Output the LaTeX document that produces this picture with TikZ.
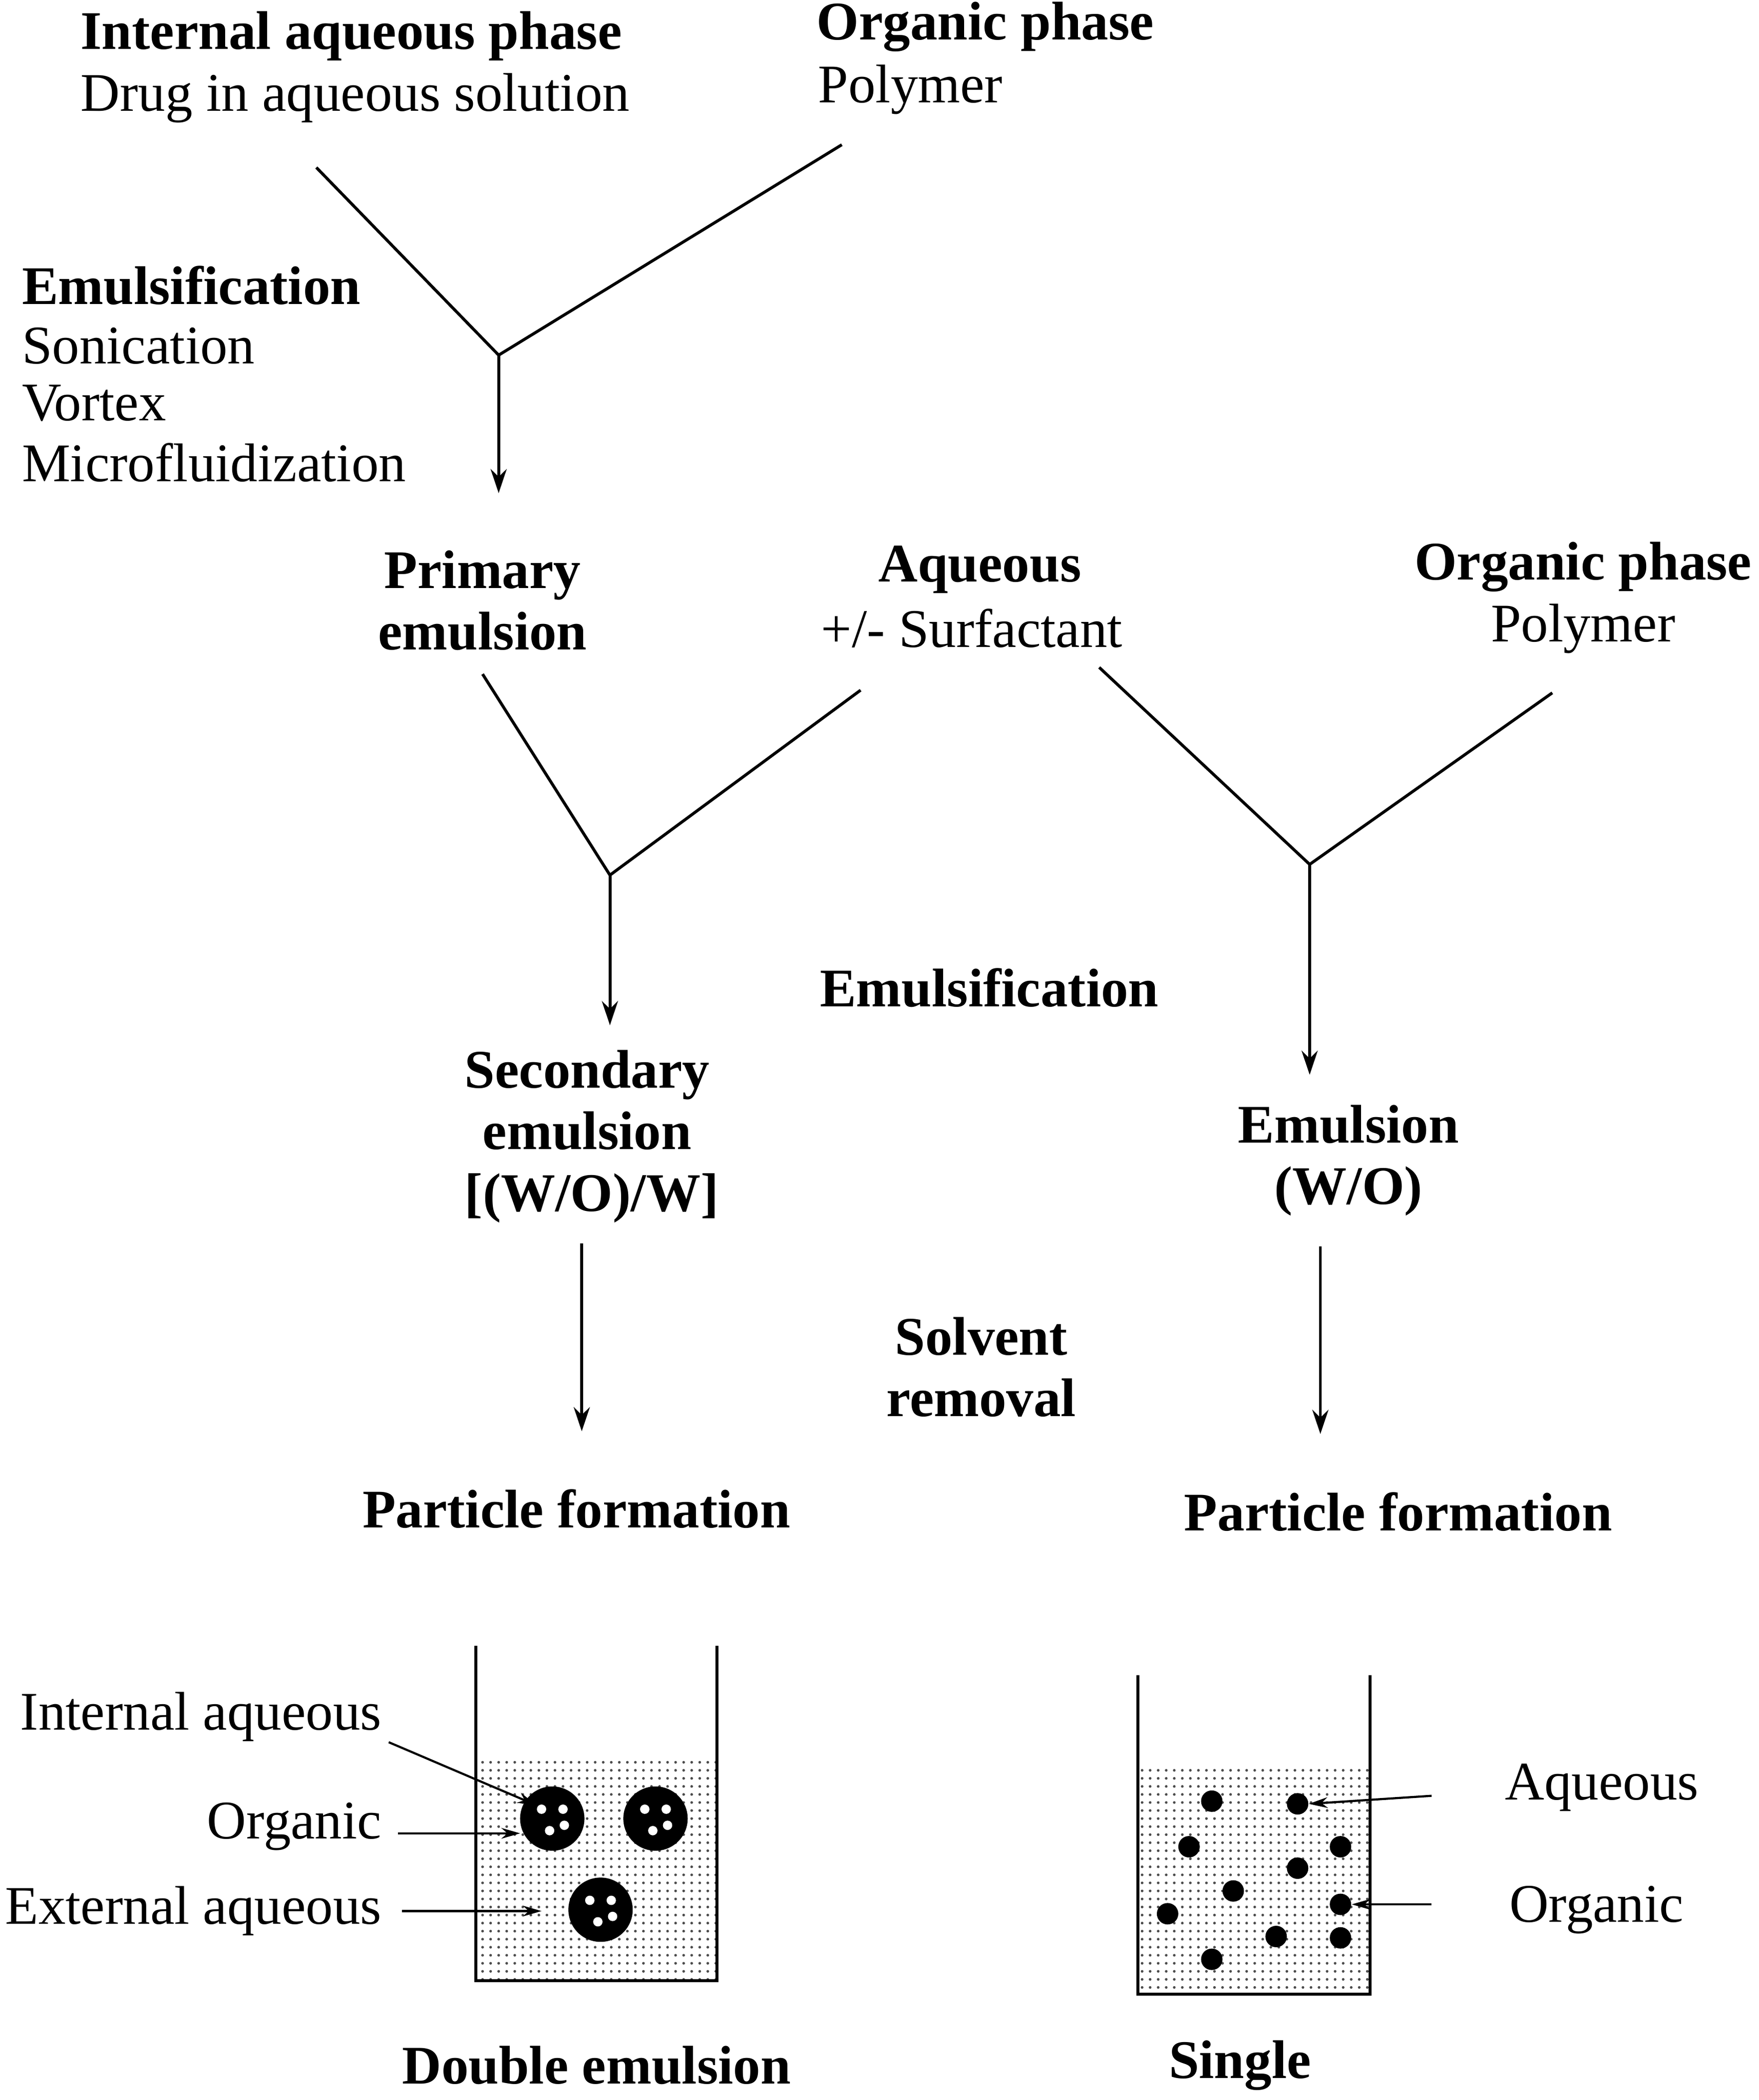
\documentclass[tikz,border=0pt]{standalone}
\usepackage{fontspec}
\setmainfont{Liberation Serif}
\usetikzlibrary{patterns,arrows.meta}
\begin{document}
\begin{tikzpicture}[x=0.5pt,y=-0.5pt,
  every node/.style={font=\fontsize{20.3}{23}\selectfont, inner sep=0pt},
  b/.style={font=\fontsize{20.3}{23}\selectfont\bfseries},
  ln/.style={line width=1.1pt},
  ar/.style={line width=1.1pt,-{Stealth[length=9pt,width=6pt]}},
  thin/.style={line width=0.8pt,-{Stealth[length=7pt,width=4pt]}},
  blob/.style={circle,fill=black,minimum size=8pt,inner sep=0pt}]
\useasboundingbox (0,0) rectangle (1312,1567);
% top
\node[b] (iap) at (262,27) {Internal aqueous phase};
\node (drug) at (265,73) {Drug in aqueous solution};
\node[b] (op1) at (735,20) {Organic phase};
\node[anchor=west] (pol1) at (610,67) {Polymer};
\node[b,anchor=west] (em1) at (16,213) {Emulsification};
\node[anchor=west] (son) at (16,258) {Sonication};
\node[anchor=west] (vor) at (16,301) {Vortex};
\node[anchor=west] (mic) at (16,345) {Microfluidization};
\coordinate (a1) at (236,125); \coordinate (a2) at (628,108);
\coordinate (j1) at (372,265); \coordinate (e1) at (372,368);
\draw[ln] (a1) -- (j1) -- (a2);
\draw[ar] (j1) -- (e1);
% middle
\node[b,align=center] (prim) at (360,448) {Primary\\[0pt]emulsion};
\node[b] (aq) at (731,425) {Aqueous};
\node (surf) at (725,469) {+/- Surfactant};
\node[b] (op2) at (1181,423) {Organic phase};
\node (pol2) at (1181,469) {Polymer};
\coordinate (b1) at (360,503); \coordinate (b2) at (642,515);
\coordinate (j2) at (455,653); \coordinate (e2) at (455,765);
\draw[ln] (b1) -- (j2) -- (b2);
\draw[ar] (j2) -- (e2);
\coordinate (c1) at (820,498); \coordinate (c2) at (1158,517);
\coordinate (j3) at (977,645); \coordinate (e3) at (977,802);
\draw[ln] (c1) -- (j3) -- (c2);
\draw[ar] (j3) -- (e3);
\node[b] (em2) at (738,737) {Emulsification};
\node[b,align=center] (sec) at (438,848) {Secondary\\[0pt]emulsion\\[0pt]\,[(W/O)/W]};
\node[b,align=center] (emu) at (1006,866) {Emulsion\\[0pt](W/O)};
\node[b,align=center] (solv) at (732,1020) {Solvent\\[0pt]removal};
\coordinate (d1) at (434,928); \coordinate (d2) at (434,1068);
\coordinate (f1) at (985,930); \coordinate (f2) at (985,1070);
\draw[ar] (d1) -- (d2);
\draw[ar] (f1) -- (f2);
\node[b] (pf1) at (430,1126) {Particle formation};
\node[b] (pf2) at (1043,1128) {Particle formation};
% left beaker
\fill[pattern=dots,pattern color=black!70] (355,1313) rectangle (535,1478);
\draw[ln] (355,1228) -- (355,1478) -- (535,1478) -- (535,1228);
\foreach \n/\x/\y in {p1/412/1357,p2/489/1357,p3/448/1425}{
  \node[circle,fill=black,minimum size=24pt] (\n) at (\x,\y) {};
  \foreach \dx/\dy in {-8/-7,8/-7,-2/9,9/5}{
    \fill[white] (\x+\dx,\y+\dy) circle (3.5);}
}
\node[anchor=east] (ia) at (285,1281) {Internal aqueous};
\node[anchor=east] (org1) at (285,1363) {Organic};
\node[anchor=east] (ea) at (285,1426) {External aqueous};
\coordinate (t1) at (400,1347); \coordinate (t2) at (388,1368); \coordinate (t3) at (404,1426);
\draw[thin] (290,1300) -- (t1);
\draw[thin] (297,1368) -- (t2);
\draw[thin] (300,1426) -- (t3);
\node[b] (de) at (445,1541) {Double emulsion};
% right beaker
\fill[pattern=dots,pattern color=black!70] (849,1320) rectangle (1022,1488);
\draw[ln] (849,1250) -- (849,1488) -- (1022,1488) -- (1022,1250);
\foreach \n/\x/\y in {q1/904/1344,q2/968/1346,q3/887/1378,q4/1000/1378,q5/968/1394,q6/920/1411,q7/871/1428,q8/1000/1421,q9/952/1445,q10/1000/1446,q11/904/1462}{
  \node[blob] (\n) at (\x,\y) {};}
\node (aq2) at (1195,1334) {Aqueous};
\node (org2) at (1191,1425) {Organic};
\coordinate (s1) at (1068,1340); \coordinate (s2) at (1068,1421);
\draw[thin] (s1) -- (q2.east);
\draw[thin] (s2) -- (q8.east);
\node[b] (sg) at (925,1541) {Single};
\end{tikzpicture}
\end{document}
